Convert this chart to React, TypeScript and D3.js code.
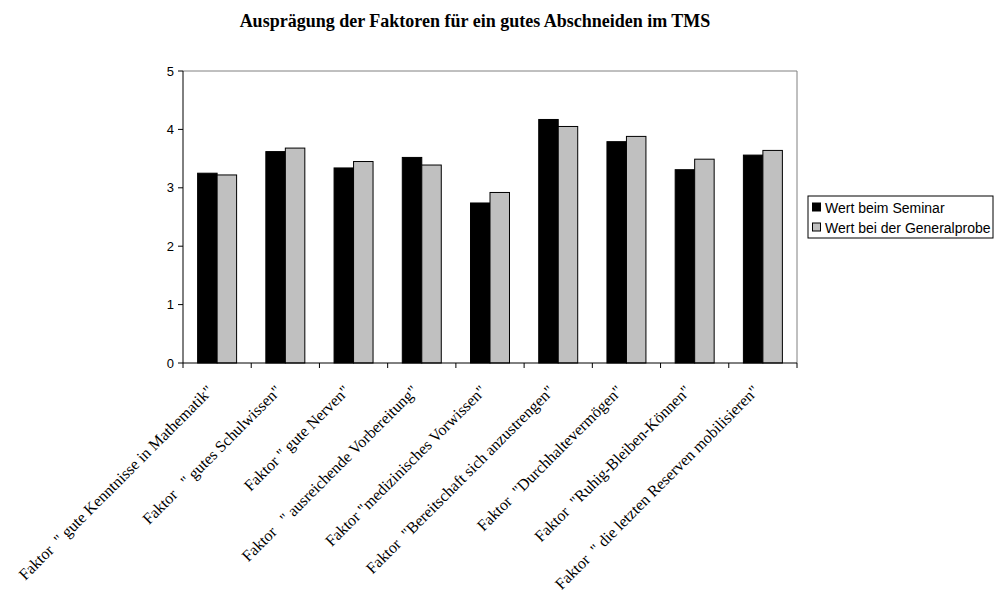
import React from "react";
import * as d3 from "d3";

const categories = [
  'Faktor  " gute Kenntnisse in Mathematik"',
  'Faktor   " gutes Schulwissen"',
  'Faktor " gute Nerven"',
  'Faktor   " ausreichende Vorbereitung"',
  'Faktor "medizinisches Vorwissen"',
  'Faktor  "Bereitschaft sich anzustrengen"',
  'Faktor  "Durchhaltevermögen"',
  'Faktor  "Ruhig-Bleiben-Können"',
  'Faktor  " die letzten Reserven mobilisieren"',
];
const seminar = [3.25, 3.62, 3.34, 3.52, 2.74, 4.17, 3.79, 3.31, 3.56];
const generalprobe = [3.22, 3.68, 3.45, 3.39, 2.92, 4.05, 3.88, 3.49, 3.64];
const seriesNames = ["Wert beim Seminar", "Wert bei der Generalprobe"];
const seriesColors = ["#000000", "#c0c0c0"];
const yTicks = [0, 1, 2, 3, 4, 5];
const title = "Ausprägung der Faktoren für ein gutes Abschneiden im TMS";

export default function App() {
  const W = 994, H = 596;
  const left = 183, right = 797, top = 71, bottom = 363;
  const x = d3.scaleBand<number>().domain(d3.range(categories.length)).range([left, right]).paddingInner(0).paddingOuter(0);
  const y = d3.scaleLinear().domain([0, 5]).range([bottom, top]);
  const bw = x.bandwidth();
  const barW = bw / 3.5;
  const series = [seminar, generalprobe];
  const sans = "Arial, 'Liberation Sans', sans-serif";
  const serif = "'Times New Roman', 'Liberation Serif', serif";
  return (
    <svg width={W} height={H} style={{ position: "absolute", left: 0, top: 0, background: "#fff" }}>
      <text x={475} y={27} textAnchor="middle" fontFamily={serif} fontWeight="bold" fontSize={18}>{title}</text>
      {/* plot border top/right */}
      <line x1={left} y1={top} x2={right} y2={top} stroke="#808080" />
      <line x1={right} y1={top} x2={right} y2={bottom} stroke="#808080" />
      {series.map((vals, si) =>
        vals.map((v, i) => {
          const cx = (x(i) as number) + bw / 2;
          const x0 = cx - barW + si * barW;
          return (
            <rect key={`${si}-${i}`} x={x0} y={y(v)} width={barW} height={bottom - y(v)}
              fill={seriesColors[si]} stroke="#000" strokeWidth={1} />
          );
        })
      )}
      {/* axes */}
      <line x1={left} y1={top} x2={left} y2={bottom} stroke="#000" />
      <line x1={left} y1={bottom} x2={right} y2={bottom} stroke="#000" />
      {yTicks.map((t) => (
        <g key={t}>
          <line x1={left - 5} x2={left} y1={y(t)} y2={y(t)} stroke="#000" />
          <text x={left - 9} y={y(t)} dy="0.35em" textAnchor="end" fontFamily={sans} fontSize={13}>{t}</text>
        </g>
      ))}
      {d3.range(categories.length + 1).map((i) => {
        const xx = left + i * bw;
        return <line key={i} x1={xx} x2={xx} y1={bottom} y2={bottom + 5} stroke="#000" />;
      })}
      {categories.map((c, i) => {
        const cx = (x(i) as number) + bw / 2;
        return (
          <text key={i} transform={`translate(${cx - 3},${bottom + 29}) rotate(-45)`} textAnchor="end"
            fontFamily={serif} fontSize={16} style={{ whiteSpace: "pre" }}>{c}</text>
        );
      })}
      {/* legend */}
      <rect x={808} y={196} width={185} height={42} fill="#fff" stroke="#000" />
      {seriesNames.map((n, i) => (
        <g key={n}>
          <rect x={812.5} y={203 + i * 20} width={8} height={8} fill={seriesColors[i]} stroke="#000" />
          <text x={825} y={212.5 + i * 20} fontFamily={sans} fontSize={14}>{n}</text>
        </g>
      ))}
    </svg>
  );
}
